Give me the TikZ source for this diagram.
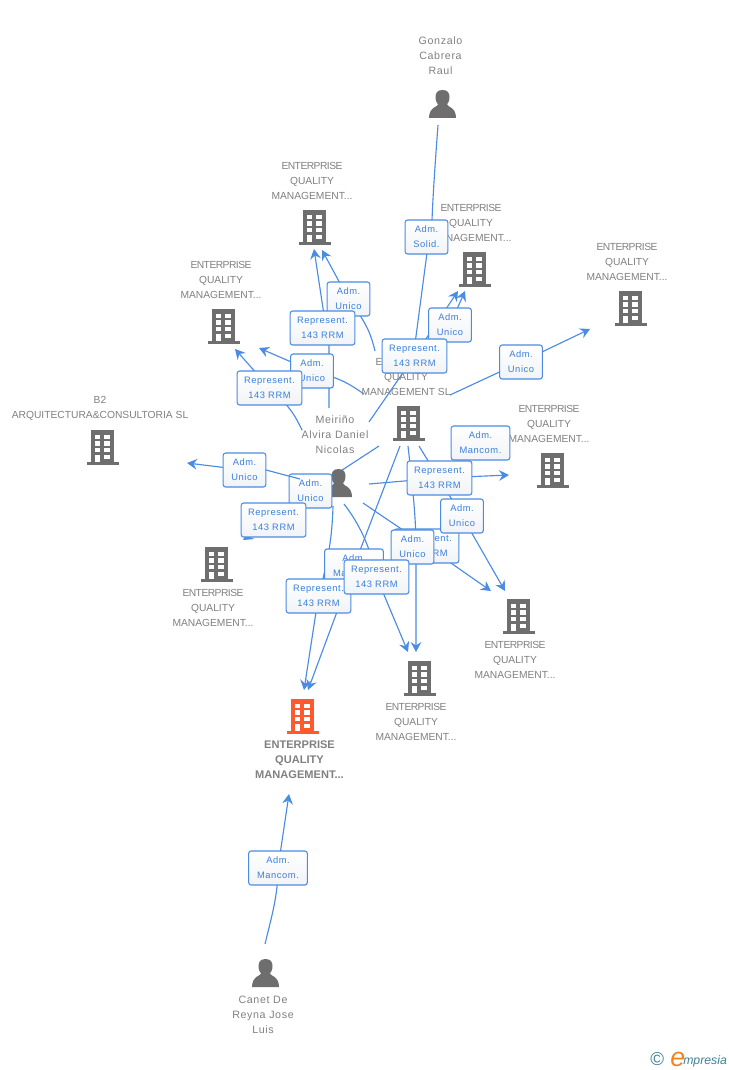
\documentclass[tikz,border=0pt]{standalone}
\usepackage{fontspec}
\setmainfont{Liberation Sans}
\newfontfamily\boxfont[LetterSpace=6]{Liberation Sans}
\newfontfamily\namefont[LetterSpace=6]{Liberation Sans}
\newfontfamily\entfont[LetterSpace=-5]{Liberation Sans}
\newcommand{\entw}{{\entfont ENTERPRISE}}
\usetikzlibrary{arrows.meta}
\pgfdeclarelayer{edges}
\pgfsetlayers{edges,main}
\definecolor{linkblue}{HTML}{4A8BE3}
\definecolor{boxtext}{HTML}{3B7FDC}
\definecolor{boxshade}{HTML}{F1F3F6}
\definecolor{icongray}{HTML}{6E6E6E}
\definecolor{labelgray}{HTML}{808080}
\definecolor{brandorange}{HTML}{FF5A2D}
\definecolor{logoteal}{HTML}{3F7F95}
\definecolor{logoorange}{HTML}{F58220}
\tikzset{
  edge/.style={draw=linkblue,line width=0.85pt},
  arrowedge/.style={edge,-{Stealth[length=7.5pt,width=8pt,inset=2.6pt]}},
  linkbox/.style={draw=linkblue,line width=0.8pt,rounded corners=1.8pt,
    top color=white,bottom color=boxshade,
    text=boxtext,font=\boxfont\fontsize{7}{11.25}\selectfont,align=center,
    inner sep=0pt,minimum height=25.5pt},
  narrowbox/.style={linkbox,minimum width=32pt},
  widebox/.style={linkbox,minimum width=48.5pt},
  mancombox/.style={linkbox,minimum width=44pt},
  lab/.style={text=labelgray,font=\fontsize{7.7}{11.25}\selectfont,align=center,inner sep=0pt},
  namelab/.style={lab,font=\namefont\fontsize{8}{11.25}\selectfont},
  boldlab/.style={lab,font=\bfseries\fontsize{8.3}{11.25}\selectfont},
  bldg/.pic={
    \fill[pic actions] (-11.5,-17) rectangle (11.5,15);
    \fill[pic actions] (-16,15) rectangle (16,17.5);
    \foreach \wy in {-12.5,-6,0.5}{
      \fill[white] (-8,\wy) rectangle (-2.6,\wy+4.6);
      \fill[white] (1.8,\wy) rectangle (7.2,\wy+4.6);
    }
    \fill[white] (-8,7.5) rectangle (-2.6,15);
    \fill[white] (1.8,7.5) rectangle (7.2,12);
  },
  personicon/.pic={
    \fill[pic actions] (0,-14) .. controls (-5,-14) and (-7,-11) .. (-7,-7)
      .. controls (-7,-3) and (-5.5,-1) .. (-4.5,0.5)
      .. controls (-5,3) and (-13.5,3) .. (-13.5,14) -- (13.5,14)
      .. controls (13.5,3) and (5,3) .. (4.5,0.5)
      .. controls (5.5,-1) and (7,-3) .. (7,-7)
      .. controls (7,-11) and (5,-14) .. (0,-14) -- cycle;
  }
}
\begin{document}
\begin{tikzpicture}[x=0.75pt,y=-0.75pt]
\useasboundingbox (0,0) rectangle (728,1070);

% icons
\pic[fill=icongray] (iTop) at (314.5,227) {bldg};
\pic[fill=icongray] (iGon) at (474.5,269) {bldg};
\pic[fill=icongray] (iFar) at (630.5,308) {bldg};
\pic[fill=icongray] (iLeft) at (223.5,326) {bldg};
\pic[fill=icongray] (iB2) at (102.5,447) {bldg};
\pic[fill=icongray] (iCen) at (408.5,423) {bldg};
\pic[fill=icongray] (iRight) at (552.5,470) {bldg};
\pic[fill=icongray] (iLow) at (216.5,564) {bldg};
\pic[fill=icongray] (iBR) at (518.5,616) {bldg};
\pic[fill=icongray] (iBC) at (419.5,678) {bldg};
\pic[fill=brandorange] (iMain) at (302.5,716) {bldg};
\pic[fill=icongray] (pGon) at (442.5,104) {personicon};
\pic[fill=icongray] (pMei) at (338.5,483) {personicon};
\pic[fill=icongray] (pCan) at (265.5,973) {personicon};

% labels
\node[namelab] (lGon) at (440.5,56) {Gonzalo\\Cabrera\\Raul};
\node[lab] (lTop) at (312,181) {\entw\\QUALITY\\MANAGEMENT...};
\node[lab] (lGonB) at (471,223) {\entw\\QUALITY\\MANAGEMENT...};
\node[lab] (lFar) at (627,262) {\entw\\QUALITY\\MANAGEMENT...};
\node[lab] (lLeft) at (221,280) {\entw\\QUALITY\\MANAGEMENT...};
\node[lab] (lB2) at (100,408.5) {B2\\ARQUITECTURA\&CONSULTORIA SL};
\node[lab] (lCen) at (406,377) {\entw\\QUALITY\\MANAGEMENT SL};
\node[namelab] (lMei) at (335,435) {Meiriño\\Alvira Daniel\\Nicolas};
\node[lab] (lRight) at (549,424) {\entw\\QUALITY\\MANAGEMENT...};
\node[lab] (lLow) at (213,608) {\entw\\QUALITY\\MANAGEMENT...};
\node[lab] (lBR) at (515,660) {\entw\\QUALITY\\MANAGEMENT...};
\node[lab] (lBC) at (416,722) {\entw\\QUALITY\\MANAGEMENT...};
\node[boldlab] (lMain) at (299.5,760) {ENTERPRISE\\QUALITY\\MANAGEMENT...};
\node[namelab] (lCan) at (263,1015) {Canet De\\Reyna Jose\\Luis};

% boxes, back to front
\node[narrowbox] (bSolid) at (426.5,237) {Adm.\\Solid.};
\node[narrowbox] (bUTop) at (348.5,299) {Adm.\\Unico};
\node[widebox] (bRTop) at (322.5,328) {Represent.\\143 RRM};
\node[narrowbox] (bULeft) at (312,371) {Adm.\\Unico};
\node[widebox] (bRLeft) at (269.5,388) {Represent.\\143 RRM};
\node[narrowbox] (bUGon) at (450,325) {Adm.\\Unico};
\node[widebox] (bRCen) at (414.5,356) {Represent.\\143 RRM};
\node[narrowbox] (bUFar) at (521,362) {Adm.\\Unico};
\node[mancombox] (bMRight) at (480.5,443) {Adm.\\Mancom.};
\node[widebox] (bRRight) at (439.5,478) {Represent.\\143 RRM};
\node[widebox] (bRBR) at (426.5,546) {Represent.\\143 RRM};
\node[narrowbox] (bUBR) at (462,516) {Adm.\\Unico};
\node[narrowbox] (bUBC) at (412.5,547) {Adm.\\Unico};
\node[narrowbox] (bUB2) at (244.5,470) {Adm.\\Unico};
\node[narrowbox] (bUMei) at (310.5,491) {Adm.\\Unico};
\node[widebox] (bRLow) at (273.5,520) {Represent.\\143 RRM};
\node[mancombox] (bMMain) at (354,566) {Adm.\\Mancom.};
\node[widebox] (bRMain) at (318.5,596) {Represent.\\143 RRM};
\node[widebox] (bRBC) at (376.5,577) {Represent.\\143 RRM};
\node[mancombox] (bMCan) at (278,868) {Adm.\\Mancom.};

% logo
\node[inner sep=0pt,anchor=base west,text=logoteal,font=\fontsize{14}{14}\selectfont] (logoC) at (650,1065) {©};
\node[inner sep=0pt,anchor=base west,text=logoorange,font=\itshape\fontsize{20}{20}\selectfont] (logoE) at (670,1066) {e};
\node[inner sep=0pt,anchor=base west,text=logoteal,font=\itshape\fontsize{9.2}{10}\selectfont] (logoT) at (683,1064) {mpresia};

% free ends
\coordinate (sGon) at (438,125);
\coordinate (aTop1) at (314,249);
\coordinate (aTop2) at (322,250);
\coordinate (sTop1) at (329,408);
\coordinate (sTop2) at (375,351);
\coordinate (aLeft1) at (235,349);
\coordinate (aLeft2) at (259,348);
\coordinate (sLeft1) at (302,430);
\coordinate (sLeft2) at (364,394);
\coordinate (aGon1) at (458,291);
\coordinate (aGon2) at (465,291);
\coordinate (sGon1) at (369,422);
\coordinate (aFar) at (590,329);
\coordinate (sFar) at (450,395);
\coordinate (aB2) at (187,463);
\coordinate (sB2a) at (379,446);
\coordinate (sB2b) at (333,476);
\coordinate (sB2c) at (300,479);
\coordinate (aLow) at (243,540);
\coordinate (sLow) at (325,500);
\coordinate (aRight) at (509,475);
\coordinate (sRight) at (369,484);
\coordinate (aBRa) at (491,591);
\coordinate (sBRa) at (363,503);
\coordinate (aBRb) at (505,591);
\coordinate (sBRb) at (419,446);
\coordinate (aBCa) at (408,652);
\coordinate (sBCa) at (344,504);
\coordinate (aBCb) at (416,652);
\coordinate (sBCb) at (408,446);
\coordinate (aMa) at (304,690);
\coordinate (sMa) at (333,506);
\coordinate (aMb) at (308,690);
\coordinate (sMb) at (400,446);
\coordinate (aMc) at (289,794);
\coordinate (sMc) at (265,944);

\draw[edge] ([shift={(21.5,0)}]bUB2.center) -- (sB2c);

\begin{pgfonlayer}{edges}
\draw[edge] (sGon) .. controls (435,165) and (433,195) .. ([shift={(5.5,-17)}]bSolid.center);
\draw[edge] ([shift={(0.5,16)}]bSolid.center) -- ([shift={(1,-16)}]bRCen.center);
\draw[arrowedge] (sTop1) -- ([shift={(6.5,17)}]bRTop.center) -- ([shift={(3.5,0)}]bRTop.center) -- (aTop1);
\draw[arrowedge] (sTop2) .. controls (371,335) and (368,325) .. (bUTop.center) -- (aTop2);
\draw[arrowedge] (sLeft1) .. controls (296,418) and (292,408) .. (bRLeft.center) -- (aLeft1);
\draw[arrowedge] (sLeft2) .. controls (348,383) and (340,378) .. (bULeft.center) -- (aLeft2);
\draw[arrowedge] (sGon1) -- (bRCen.center) -- (aGon1);
\draw[arrowedge] (bUGon.center) -- (aGon2);
\draw[arrowedge] (sFar) -- (bUFar.center) -- (aFar);
\draw[edge] (sB2a) -- (sB2b);
\draw[arrowedge] (bUB2.center) -- (aB2);
\draw[arrowedge] (sLow) -- (bRLow.center) -- (aLow);
\draw[arrowedge] (sRight) -- (bRRight.center) -- (aRight);
\draw[arrowedge] (sBRa) -- (bRBR.center) -- (aBRa);
\draw[arrowedge] (sBRb) -- (bUBR.center) -- (aBRb);
\draw[arrowedge] (sBCa) .. controls (358,522) and (370,545) .. (bRBC.center) -- (aBCa);
\draw[arrowedge] (sBCb) .. controls (413,490) and (416,520) .. ([shift={(3.5,0)}]bUBC.center) -- (aBCb);
\draw[arrowedge] (sMa) .. controls (332,540) and (328,560) .. (bRMain.center) -- (aMa);
\draw[arrowedge] (sMb) -- (bMMain.center) -- (aMb);
\draw[arrowedge] (sMc) .. controls (272,915) and (278,895) .. (bMCan.center) -- (aMc);
\end{pgfonlayer}
\end{tikzpicture}
\end{document}
